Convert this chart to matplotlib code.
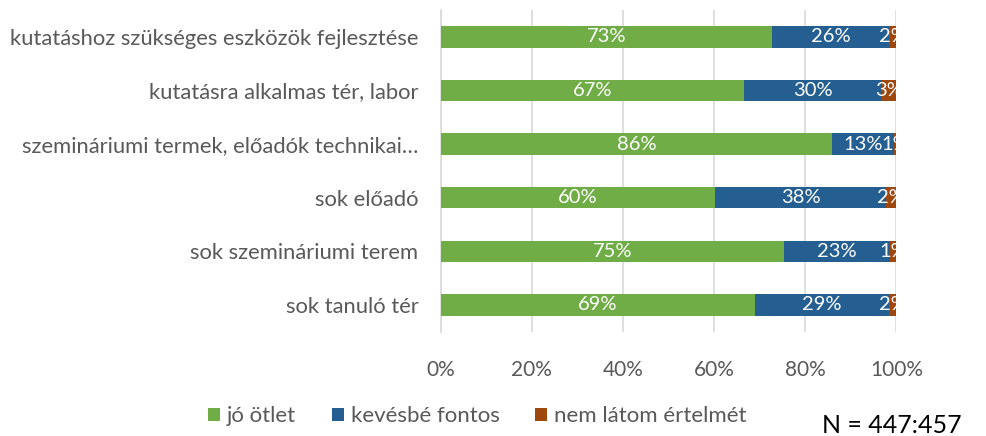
import matplotlib.pyplot as plt
import numpy as np

plt.rcParams['font.family'] = ['Lato', 'DejaVu Sans']

# data (top to bottom as in the chart)
categories = ['kutatáshoz szükséges eszközök fejlesztése',
              'kutatásra alkalmas tér, labor',
              'szemináriumi termek, előadók technikai…',
              'sok előadó',
              'sok szemináriumi terem',
              'sok tanuló tér']
jo_otlet = [72.8, 66.6, 86.0, 60.2, 75.3, 69.0]
kevesbe = [25.6, 30.3, 13.4, 37.6, 23.4, 29.4]
nem_latom = [1.6, 3.1, 0.6, 2.2, 1.3, 1.6]
series_names = ['jó ötlet', 'kevésbé fontos', 'nem látom értelmét']
colors = ['#70AD47', '#255E91', '#9E480E']

fig = plt.figure(figsize=(9.86, 4.36), dpi=100)
ax = fig.add_axes([0.447, 0.239, 0.462, 0.738])

y = np.arange(len(categories))
left = np.zeros(len(categories))
for vals, name, col in zip([jo_otlet, kevesbe, nem_latom], series_names, colors):
    vals = np.array(vals)
    ax.barh(y, vals, left=left, height=0.4, color=col, label=name, zorder=3)
    for yi, l, v in zip(y, left, vals):
        ax.text(l + v / 2, yi, f'{round(v):.0f}%', ha='center', va='center',
                color='white', fontsize=14.5, zorder=4, clip_on=True)
    left += vals

ax.set_xlim(0, 100)
ax.set_ylim(len(categories) - 0.5, -0.5)
ax.set_yticks(y)
ax.set_yticklabels(categories, fontsize=15.8, color='#595959')
ax.set_xticks(np.arange(0, 101, 20))
ax.set_xticklabels([f'{t}%' for t in range(0, 101, 20)], fontsize=15, color='#595959')
ax.tick_params(length=0)
ax.tick_params(axis='y', pad=16)
ax.tick_params(axis='x', pad=20)
ax.grid(axis='x', color='#D9D9D9', linewidth=1.2, zorder=0)
for s in ['top', 'right', 'bottom']:
    ax.spines[s].set_visible(False)
ax.spines['left'].set_color('#D9D9D9')
ax.spines['left'].set_linewidth(1.2)

fig.legend(loc='center', bbox_to_anchor=(0.484, 0.045), ncol=3, frameon=False,
           fontsize=16, handlelength=0.55, handleheight=0.55, handletextpad=0.3,
           columnspacing=1.6, labelcolor='#595959')
fig.text(0.834, 0.025, 'N = 447:457', fontsize=18, color='black', ha='left', va='center')

fig.savefig('out.png', dpi=100)
